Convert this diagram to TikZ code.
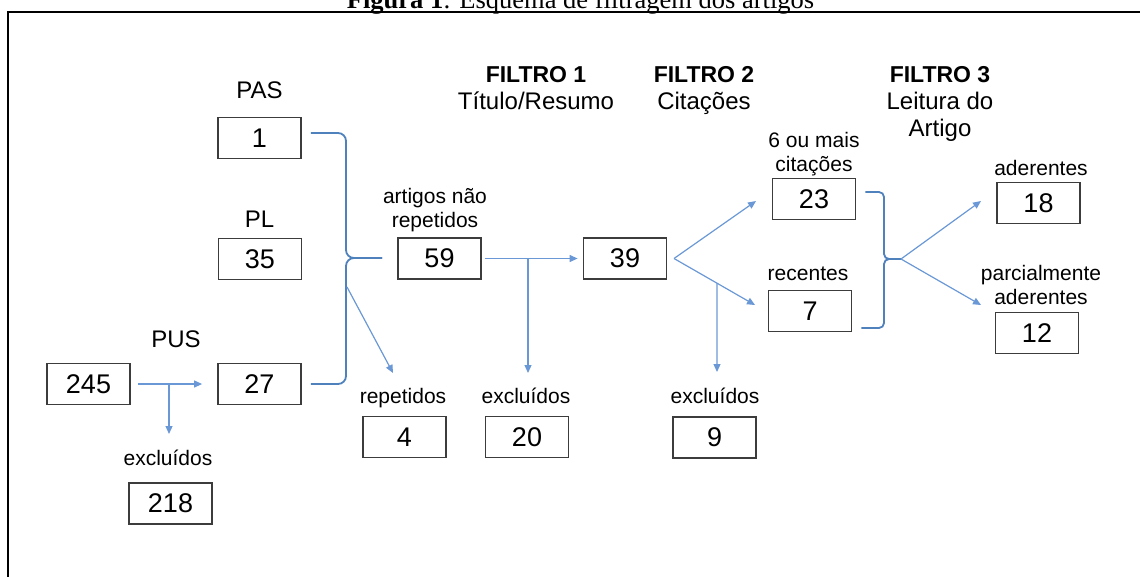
\documentclass[tikz,border=0pt]{standalone}
\usepackage{fontspec}
\setmainfont{Liberation Sans}
\newfontfamily\titlefont{Liberation Serif}
\usetikzlibrary{arrows.meta,calc}
\definecolor{linkblue}{HTML}{6A98D6}
\definecolor{braceblue}{HTML}{4F81BD}
\definecolor{boxgray}{HTML}{3C3C3C}

\tikzset{
  numbox/.style={draw=boxgray, line width=1.8pt, minimum width=83pt, minimum height=41pt, inner sep=0pt, font=\fontsize{27}{30}\selectfont},
  lbl/.style={anchor=base, align=center, font=\fontsize{21}{24}\selectfont},
  srclbl/.style={anchor=base, font=\fontsize{24}{28}\selectfont},
  filt/.style={anchor=base, align=center, font=\fontsize{24}{27}\selectfont},
  flow/.style={draw=linkblue, line width=1.2pt, -{Triangle[length=8pt,width=7pt]}},
  brk/.style={draw=braceblue, line width=1.8pt, rounded corners=#1},
  brk/.default=8pt
}

\begin{document}
\begin{tikzpicture}[x=1pt, y=-1pt]
  \useasboundingbox (0,0) rectangle (1140,576);
  \draw[line width=2pt] (8,590) -- (8,12) -- (1150,12);
  \node[anchor=base, font={\titlefont\fontsize{26.5}{30}\selectfont}] (title) at (580.5,8) {\textbf{Figura 1}: Esquema de filtragem dos artigos};

  \foreach \nm/\x/\y/\v in {pas/259.5/138/1, pl/260/259/35, pusin/88.5/384/245, pus/259.5/384/27,
      pusexc/170.5/503.5/218, unq/439.5/258.5/59, rep/404.5/437/4, exc1/527/437/20,
      cit/625/258.5/39, mais/814/199/23, rec/810/311/7, exc2/714.5/437.5/9,
      ader/1038.5/203/18, parc/1037/333/12}
    \node[numbox] (\nm) at (\x,\y) {\v};

  \node[srclbl] (lpas) at (259.5,98) {PAS};
  \node[srclbl] (lpl) at (259.5,227) {PL};
  \node[srclbl] (lpus) at (176,347) {PUS};
  \node[lbl] (lexc0) at (168,465) {excluídos};
  \node[lbl] (lunq) at (435,227) {artigos não\\repetidos};
  \node[lbl] (lrep) at (403,403) {repetidos};
  \node[lbl] (lexc1) at (526,403) {excluídos};
  \node[lbl] (lexc2) at (715,403) {excluídos};
  \node[lbl] (lmais) at (814,171) {6 ou mais\\citações};
  \node[lbl] (lrec) at (808,280) {recentes};
  \node[lbl] (lader) at (1041,175) {aderentes};
  \node[lbl] (lparc) at (1041,304) {parcialmente\\aderentes};
  \node[filt] (flt1) at (536,109) {\textbf{\fontsize{23}{27}\selectfont FILTRO 1}\\Título/Resumo};
  \node[filt] (flt2) at (704,109) {\textbf{\fontsize{23}{27}\selectfont FILTRO 2}\\Citações};
  \node[filt] (flt3) at (940,136) {\textbf{\fontsize{23}{27}\selectfont FILTRO 3}\\Leitura do\\Artigo};

  \coordinate (s1) at (346,258);
  \coordinate (t1) at (382,258);
  \coordinate (s2) at (884,259);
  \coordinate (t2) at (901,259);
  \coordinate (j1) at (169,384);
  \coordinate (e1) at (169,434);
  \coordinate (e2) at (393,373);
  \coordinate (j2) at (528,258.5);
  \coordinate (e3) at (528,373);
  \coordinate (f2) at (674,258.5);
  \coordinate (e4) at (756,201);
  \coordinate (e5) at (755,305);
  \coordinate (e6) at (717,372);
  \coordinate (e7) at (981,201);
  \coordinate (e8) at (981,305);

  \draw[brk] ([shift={(9,-5)}]pas.east) -| (s1) -- (t1);
  \draw[brk] (t1) -- (s1) |- ([xshift=9pt]pus.east);
  \draw[flow] ($(s1)+(1,29)$) -- (e2);
  \draw[flow] ([xshift=7pt]pusin.east) -- ([xshift=-15pt]pus.west);
  \draw[flow] (j1) -- (e1);
  \draw[flow] ([xshift=3pt]unq.east) -- ([xshift=-5pt]cit.west);
  \draw[flow] (j2) -- (e3);
  \draw[flow] (f2) -- (e4);
  \draw[flow] (f2) -- (e5);
  \draw[flow] ($(f2)!0.53!(e5)$) -- (e6);
  \draw[brk=5pt] ([shift={(9,-7)}]mais.east) -| (s2) -- (t2);
  \draw[brk=5pt] (t2) -- (s2) |- ([shift={(9,17)}]rec.east);
  \draw[flow] (t2) -- (e7);
  \draw[flow] (t2) -- (e8);
\end{tikzpicture}
\end{document}
